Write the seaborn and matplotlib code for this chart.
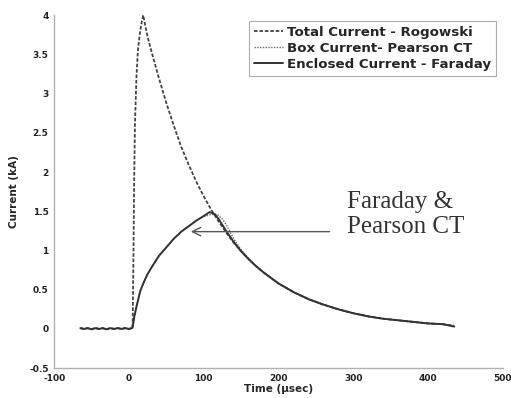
import matplotlib
matplotlib.use("Agg")
import matplotlib.pyplot as plt
import seaborn as sns
import pandas as pd

# ---- data (time in usec, current in kA) ----
base_t = [-65, -60, -55, -50, -45, -40, -35, -30, -25, -20, -15, -10, -5, 0, 4]
base_v = [0.01, 0.0, 0.01, -0.005, 0.01, 0.0, 0.01, -0.005, 0.01, 0.0, 0.01, 0.0, 0.01, 0.0, 0.01]

rog_t = base_t + [5, 6, 7, 8, 10, 12, 14, 16, 19, 22, 25, 30, 40, 50, 60, 70, 80, 90, 100,
                  110, 120, 130, 140, 150, 160, 170, 180, 190, 200, 220, 240, 260, 280,
                  300, 320, 340, 360, 380, 400, 420, 435]
rog_v = base_v + [0.05, 0.9, 1.9, 2.6, 3.2, 3.55, 3.72, 3.86, 4.0, 3.86, 3.72, 3.54, 3.2, 2.88,
                  2.59, 2.32, 2.09, 1.88, 1.69, 1.52, 1.37, 1.23, 1.10, 0.99, 0.89, 0.80,
                  0.72, 0.65, 0.58, 0.47, 0.38, 0.31, 0.25, 0.20, 0.16, 0.13, 0.11, 0.09,
                  0.07, 0.06, 0.04]

pear_t = base_t + [5, 7, 10, 15, 20, 25, 30, 40, 50, 60, 70, 80, 90, 100, 110, 118, 125,
                   130, 140, 150, 160, 170, 180, 190, 200, 220, 240, 260, 280, 300, 320,
                   340, 360, 380, 400, 420, 435]
pear_v = base_v + [0.02, 0.15, 0.28, 0.48, 0.60, 0.70, 0.78, 0.93, 1.04, 1.15, 1.24, 1.31,
                   1.38, 1.43, 1.46, 1.46, 1.40, 1.33, 1.15, 1.01, 0.90, 0.80, 0.72, 0.65,
                   0.58, 0.47, 0.38, 0.31, 0.25, 0.20, 0.16, 0.13, 0.11, 0.09, 0.07, 0.06,
                   0.04]

far_t = base_t + [5, 7, 10, 15, 20, 25, 30, 40, 50, 60, 70, 80, 90, 100, 108, 115, 120,
                  130, 140, 150, 160, 170, 180, 190, 200, 220, 240, 260, 280, 300, 320,
                  340, 360, 380, 400, 420, 435]
far_v = base_v + [0.02, 0.15, 0.28, 0.48, 0.60, 0.70, 0.78, 0.93, 1.04, 1.15, 1.24, 1.31,
                  1.38, 1.44, 1.49, 1.46, 1.40, 1.25, 1.11, 0.99, 0.89, 0.80, 0.72, 0.65,
                  0.58, 0.47, 0.38, 0.31, 0.25, 0.20, 0.16, 0.13, 0.11, 0.09, 0.07, 0.06,
                  0.03]

labels = ["Total Current - Rogowski", "Box Current- Pearson CT", "Enclosed Current - Faraday"]
x_ticks = [-100, 0, 100, 200, 300, 400, 500]
y_ticks = [-0.5, 0, 0.5, 1, 1.5, 2, 2.5, 3, 3.5, 4]
y_tick_labels = ["-0.5", "0", "0.5", "1", "1.5", "2", "2.5", "3", "3.5", "4"]
annot_text = "Faraday &\nPearson CT"
annot_tip = (79, 1.24)
annot_tail = (272, 1.24)

sns.set_style("white")
plt.rcParams['font.family'] = ['DejaVu Sans']

fig = plt.figure(figsize=(5.11, 3.98), dpi=100)
ax = fig.add_axes([0.106, 0.075, 0.878, 0.887])

df_r = pd.DataFrame({"t": rog_t, "i": rog_v})
df_p = pd.DataFrame({"t": pear_t, "i": pear_v})
df_f = pd.DataFrame({"t": far_t, "i": far_v})

sns.lineplot(data=df_r, x="t", y="i", ax=ax, sort=False, estimator=None, color="#444444",
             linewidth=1.3, linestyle=(0, (2.0, 1.0)), label=labels[0])
sns.lineplot(data=df_p, x="t", y="i", ax=ax, sort=False, estimator=None, color="#666666",
             linewidth=1.0, linestyle=(0, (1.0, 1.0)), label=labels[1])
sns.lineplot(data=df_f, x="t", y="i", ax=ax, sort=False, estimator=None, color="#333333",
             linewidth=1.4, linestyle="-", label=labels[2])

ax.set_xlim(-100, 500)
ax.set_ylim(-0.5, 4)
ax.set_xticks(x_ticks)
ax.set_xticklabels([str(v) for v in x_ticks])
ax.set_yticks(y_ticks)
ax.set_yticklabels(y_tick_labels)
ax.tick_params(direction="in", length=3, color="#aaaaaa", labelsize=6.5, pad=4)
for lab in ax.get_xticklabels() + ax.get_yticklabels():
    lab.set_fontweight("bold")
    lab.set_color("#222222")

for s in ["top", "right"]:
    ax.spines[s].set_visible(False)
for s in ["left", "bottom"]:
    ax.spines[s].set_color("#b0b0b0")
    ax.spines[s].set_linewidth(1.0)

ax.set_xlabel("Time (\u03bcsec)", fontsize=7.5, fontweight="bold", labelpad=1)
ax.set_ylabel("Current (kA)", fontsize=7.5, fontweight="bold", labelpad=7)

leg = ax.legend(loc="upper right", bbox_to_anchor=(0.99, 0.99),
                prop={"weight": "bold", "size": 9.6}, frameon=True, fancybox=False,
                handlelength=2.2, handletextpad=0.3, labelspacing=0.22,
                borderpad=0.35, borderaxespad=0.2)
leg.get_frame().set_edgecolor("#999999")
leg.get_frame().set_linewidth(0.8)

ax.annotate("", xy=annot_tip, xytext=annot_tail,
            arrowprops=dict(arrowstyle="->", color="#555555", lw=1.0,
                            mutation_scale=15))
ax.text(291, 1.46, annot_text, fontsize=18, family="Liberation Serif", color="#333333",
        va="center", ha="left", linespacing=1.15)

fig.savefig("out.png", dpi=100)
